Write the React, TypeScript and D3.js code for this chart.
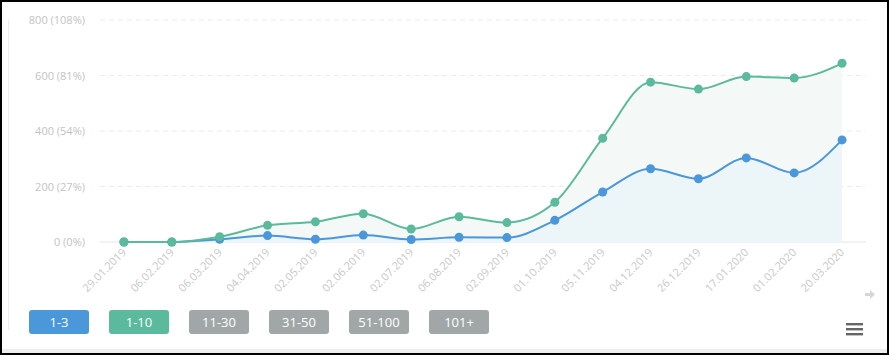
import React from "react";
import * as d3 from "d3";

const dates = ["29.01.2019","06.02.2019","06.03.2019","04.04.2019","02.05.2019","02.06.2019","02.07.2019","06.08.2019","02.09.2019","01.10.2019","05.11.2019","04.12.2019","26.12.2019","17.01.2020","01.02.2020","20.03.2020"];
const top3 = [0,0,10,23,10,25,9,17,16,78,180,264,228,303,249,368];
const top10 = [0,0,19,60,73,102,47,91,70,143,374,576,551,596,591,644];
const yTicks = [0,200,400,600,800];
const yTickLabels = ["0 (0%)","200 (27%)","400 (54%)","600 (81%)","800 (108%)"];
const legendLabels = ["1-3","1-10","11-30","31-50","51-100","101+"];
const legendColors = ["#4a97d9","#5bba9b","#a1a7a7","#a1a7a7","#a1a7a7","#a1a7a7"];

const W = 889, H = 355;
const L = 100, R = 866, T = 20, B = 242;

export default function App() {
  const x = d3.scaleBand<string>().domain(dates).range([L, R]);
  const cx = (d: string) => (x(d) as number) + x.bandwidth() / 2;
  const y = d3.scaleLinear().domain([0, 800]).range([B, T]);
  const line = d3.line<number>().x((_, i) => cx(dates[i])).y(v => y(v)).curve(d3.curveMonotoneX);
  const area = d3.area<number>().x((_, i) => cx(dates[i])).y0(y(0)).y1(v => y(v)).curve(d3.curveMonotoneX);
  const font = "'Open Sans', sans-serif";
  return (
    <div style={{ position: "absolute", left: 0, top: 0 }}>
      <svg width={W} height={H} style={{ display: "block", fontFamily: font }}>
        <rect x={0} y={0} width={W} height={H} fill="#fff" />
        <rect x={0} y={349} width={W} height={4} fill="#eceeef" />
        <line x1={8.5} x2={8.5} y1={20} y2={330} stroke="#ededed" strokeWidth={1} />
        {yTicks.map((t, i) => (
          <g key={t}>
            <line x1={L} x2={R} y1={y(t)} y2={y(t)} stroke={t === 0 ? "#e6e6e6" : "#ebebeb"} strokeDasharray={t === 0 ? undefined : "5,4"} strokeWidth={1} />
            <text x={85} y={y(t) + 4} textAnchor="end" fontSize={11} fill="#c3c3c3">{yTickLabels[i]}</text>
          </g>
        ))}
        <path d={area(top10) || ""} fill="#f4f9f8" />
        <path d={area(top3) || ""} fill="#ecf5f8" />
        <path d={line(top3) || ""} fill="none" stroke={legendColors[0]} strokeWidth={2} />
        <path d={line(top10) || ""} fill="none" stroke={legendColors[1]} strokeWidth={2} />
        {top3.map((v, i) => <circle key={"a" + i} cx={cx(dates[i])} cy={y(v)} r={4.5} fill={legendColors[0]} />)}
        {top10.map((v, i) => <circle key={"b" + i} cx={cx(dates[i])} cy={y(v)} r={4.5} fill={legendColors[1]} />)}
        {dates.map(d => (
          <text key={d} transform={`translate(${cx(d) + 3},${253}) rotate(-45)`} textAnchor="end" fontSize={11} fill="#c8c8c8">{d}</text>
        ))}
        <path d="M865,293 L870,293 L870,290 L875,294.5 L870,299 L870,296 L865,296 Z" fill="#d6d6d6" />
        {legendLabels.map((l, i) => (
          <g key={l}>
            <rect x={29 + i * 80} y={310} width={60} height={24} rx={3} fill={legendColors[i]} />
            <text x={59 + i * 80} y={326.5} textAnchor="middle" fontSize={13} fill="#fff">{l}</text>
          </g>
        ))}
        {[0, 1, 2].map(i => <rect key={i} x={846} y={323 + i * 5} width={17} height={2.4} fill="#666" />)}
        <rect x={1} y={1} width={W - 2} height={H - 2} fill="none" stroke="#000" strokeWidth={2} />
      </svg>
    </div>
  );
}
